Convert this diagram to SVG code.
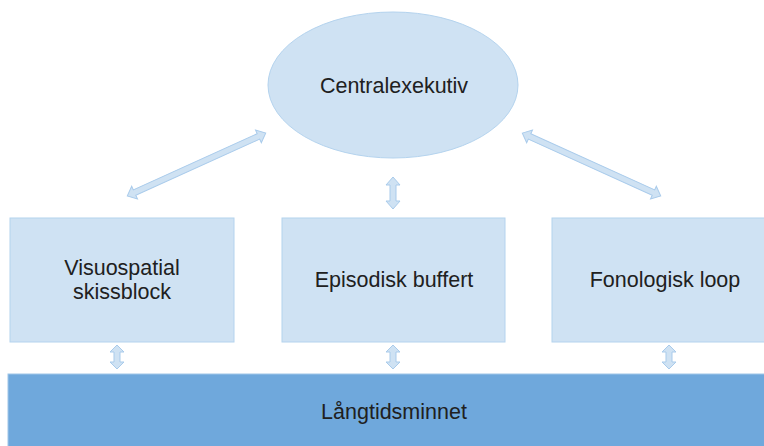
<svg xmlns="http://www.w3.org/2000/svg" width="764" height="446" viewBox="0 0 764 446">
<style>
.box{fill:#cfe2f3;stroke:#b4d3ee;stroke-width:1}
.dark{fill:#6fa8dc;stroke:#9fc5e8;stroke-width:1}
.arr{fill:#cfe2f3;stroke:#a9cbeb;stroke-width:1}
text{font-family:"Liberation Sans",Arial,sans-serif;font-size:21.5px;fill:#202020;text-anchor:middle}
</style>
<rect width="764" height="446" fill="#ffffff"/>
<g id="central">
<ellipse class="box" cx="393" cy="85" rx="125" ry="73"/>
<text x="394" y="93">Centralexekutiv</text>
</g>
<g id="visuo">
<rect class="box" x="10" y="218" width="224" height="124"/>
<text x="122" y="275">Visuospatial</text>
<text x="122" y="299">skissblock</text>
</g>
<g id="episod">
<rect class="box" x="282" y="218" width="223" height="124"/>
<text x="394" y="287">Episodisk buffert</text>
</g>
<g id="fono">
<rect class="box" x="552" y="218" width="224" height="124"/>
<text x="665" y="287">Fonologisk loop</text>
</g>
<g id="ltm">
<rect class="dark" x="8" y="374" width="770" height="80"/>
<text x="394" y="419">Långtidsminnet</text>
</g>
<g id="connectors">
<polygon class="arr" transform="translate(196.5,164.5) rotate(-24.4)" points="-76,0 -68,-7 -68,-3 68,-3 68,-7 76,0 68,7 68,3 -68,3 -68,7"/>
<polygon class="arr" transform="translate(591.5,164.5) rotate(24.4)" points="-76,0 -68,-7 -68,-3 68,-3 68,-7 76,0 68,7 68,3 -68,3 -68,7"/>
<polygon class="arr" transform="translate(393,193) rotate(90)" points="-16,0 -8,-7 -8,-3 8,-3 8,-7 16,0 8,7 8,3 -8,3 -8,7"/>
<polygon class="arr" transform="translate(117,357) rotate(90)" points="-12,0 -5,-7 -5,-3 5,-3 5,-7 12,0 5,7 5,3 -5,3 -5,7"/>
<polygon class="arr" transform="translate(393,357) rotate(90)" points="-12,0 -5,-7 -5,-3 5,-3 5,-7 12,0 5,7 5,3 -5,3 -5,7"/>
<polygon class="arr" transform="translate(669,357) rotate(90)" points="-12,0 -5,-7 -5,-3 5,-3 5,-7 12,0 5,7 5,3 -5,3 -5,7"/>
</g>
</svg>
